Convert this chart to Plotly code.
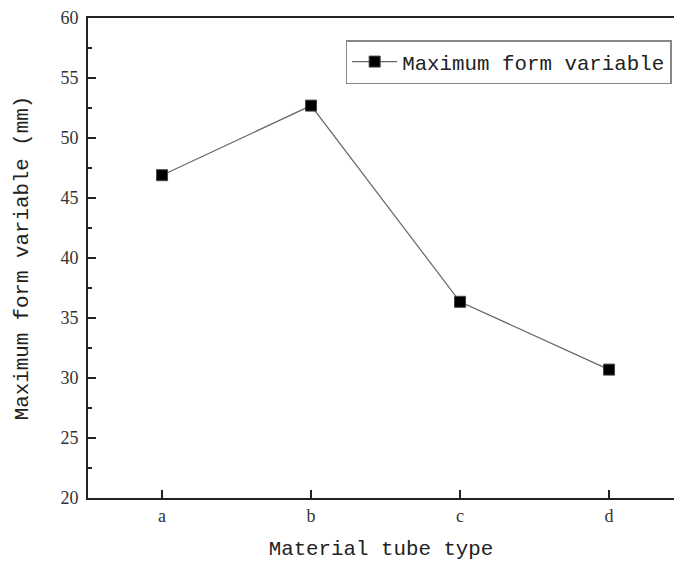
import plotly.graph_objects as go

categories = ["a", "b", "c", "d"]
values = [46.9, 52.7, 36.35, 30.7]
series_name = "Maximum form variable"
y_ticks = [20, 25, 30, 35, 40, 45, 50, 55, 60]

mono = "Liberation Mono, Courier New, monospace"
serif = "Liberation Serif, Times New Roman, serif"

fig = go.Figure()
fig.add_trace(go.Scatter(
    x=list(range(len(categories))), y=values, mode="lines+markers", name=series_name,
    line=dict(color="#666666", width=1.2),
    marker=dict(symbol="square", size=11, color="black", line=dict(color="#444", width=1)),
))

fig.update_layout(
    width=674, height=561,
    margin=dict(l=88, r=0, t=18, b=63),
    paper_bgcolor="white", plot_bgcolor="white",
    showlegend=True,
    legend=dict(x=0.996, xanchor="right", y=0.954, yanchor="top",
                bordercolor="#888888", borderwidth=1.5, bgcolor="white",
                itemwidth=45,
                font=dict(family=mono, size=20.8, color="#222")),
    xaxis=dict(range=[-0.497, 3.436], tickvals=list(range(len(categories))), ticktext=categories,
               ticks="inside", ticklen=8, tickwidth=2, tickcolor="#222",
               showline=True, linecolor="#222", linewidth=2, mirror=True,
               showgrid=False, zeroline=False,
               tickfont=dict(family=serif, size=18, color="#333"),
               title=dict(text="Material tube type", font=dict(family=mono, size=20.8, color="#222"), standoff=16)),
    yaxis=dict(range=[20, 60], tickvals=y_ticks,
               ticks="inside", ticklen=8, tickwidth=2, tickcolor="#222",
               minor=dict(dtick=2.5, tick0=20, ticks="inside", ticklen=4, tickwidth=2, tickcolor="#222"),
               showline=True, linecolor="#222", linewidth=2, mirror=False,
               showgrid=False, zeroline=False, ticklabelstandoff=4,
               tickfont=dict(family=serif, size=18, color="#333"),
               title=dict(text="Maximum form variable (mm)", font=dict(family=mono, size=20.8, color="#222"), standoff=26)),
)

fig.write_html("out.html")
